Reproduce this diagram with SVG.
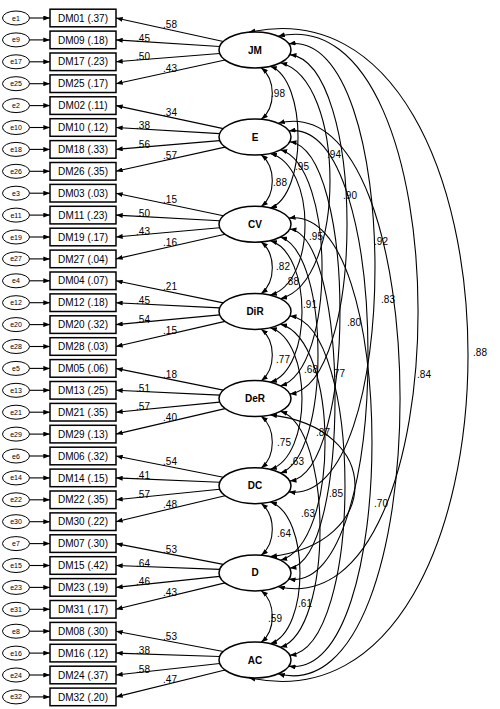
<svg xmlns="http://www.w3.org/2000/svg" width="500" height="709" viewBox="0 0 500 709">
<style>
.box{fill:#fff;stroke:#000;stroke-width:1.5}
.err{fill:#fff;stroke:#000;stroke-width:1}
.lat{fill:#fff;stroke:#000;stroke-width:1.5}
.ln{fill:none;stroke:#000;stroke-width:1.1}
.cv{fill:none;stroke:#000;stroke-width:1.1;marker-start:url(#ah);marker-end:url(#ah)}
.ar{marker-end:url(#ah)}
text{font-family:"Liberation Sans",Arial,sans-serif;font-size:10px;text-anchor:middle;fill:#000}
.et{font-size:7px}
.lt{font-weight:bold}
</style>
<defs>
<marker id="ah" viewBox="0 0 8 6" refX="8" refY="3" markerWidth="7" markerHeight="5" markerUnits="userSpaceOnUse" orient="auto-start-reverse"><path d="M0,0 L8,3 L0,6 z" fill="#000"/></marker>
</defs>
<g id="connectors">
<!-- error arrows -->
<g class="ln ar">
<path d="M29.5,18H50"/><path d="M29.5,39.9H50"/><path d="M29.5,61.8H50"/><path d="M29.5,83.7H50"/>
<path d="M29.5,105.6H50"/><path d="M29.5,127.5H50"/><path d="M29.5,149.4H50"/><path d="M29.5,171.3H50"/>
<path d="M29.5,193.2H50"/><path d="M29.5,215.1H50"/><path d="M29.5,237H50"/><path d="M29.5,258.9H50"/>
<path d="M29.5,280.8H50"/><path d="M29.5,302.7H50"/><path d="M29.5,324.6H50"/><path d="M29.5,346.5H50"/>
<path d="M29.5,368.4H50"/><path d="M29.5,390.3H50"/><path d="M29.5,412.2H50"/><path d="M29.5,434.1H50"/>
<path d="M29.5,456H50"/><path d="M29.5,477.9H50"/><path d="M29.5,499.8H50"/><path d="M29.5,521.7H50"/>
<path d="M29.5,543.6H50"/><path d="M29.5,565.5H50"/><path d="M29.5,587.4H50"/><path d="M29.5,609.3H50"/>
<path d="M29.5,631.2H50"/><path d="M29.5,653.1H50"/><path d="M29.5,675H50"/><path d="M29.5,696.9H50"/>
</g>
<!-- loadings -->
<g class="ln ar">
<path d="M223.3,41.5L116,18"/><path d="M219.7,46.5L116,39.9"/><path d="M219.7,53.5L116,61.8"/><path d="M225,60L116,83.7"/>
<path d="M223.3,128.6L116,105.6"/><path d="M219.7,133.6L116,127.5"/><path d="M219.7,140.6L116,149.4"/><path d="M225,147.1L116,171.3"/>
<path d="M223.3,215.8L116,193.2"/><path d="M219.7,220.8L116,215.1"/><path d="M219.7,227.8L116,237"/><path d="M225,234.3L116,258.9"/>
<path d="M223.3,302.9L116,280.8"/><path d="M219.7,307.9L116,302.7"/><path d="M219.7,314.9L116,324.6"/><path d="M225,321.4L116,346.5"/>
<path d="M223.3,390.1L116,368.4"/><path d="M219.7,395.1L116,390.3"/><path d="M219.7,402.1L116,412.2"/><path d="M225,408.6L116,434.1"/>
<path d="M223.3,477.2L116,456"/><path d="M219.7,482.2L116,477.9"/><path d="M219.7,489.2L116,499.8"/><path d="M225,495.7L116,521.7"/>
<path d="M223.3,564.4L116,543.6"/><path d="M219.7,569.4L116,565.5"/><path d="M219.7,576.4L116,587.4"/><path d="M225,582.9L116,609.3"/>
<path d="M223.3,651.5L116,631.2"/><path d="M219.7,656.5L116,653.1"/><path d="M219.7,663.5L116,675"/><path d="M225,670L116,696.9"/>
</g>
<g id="loading-labels">
<text x="170" y="28.3">.58</text><text x="143" y="41.6">.45</text><text x="143" y="60.1">.50</text><text x="170" y="71.5">.43</text>
<text x="170" y="115.7">.34</text><text x="143" y="129.1">.38</text><text x="143" y="147.6">.56</text><text x="170" y="158.8">.57</text>
<text x="170" y="203.1">.15</text><text x="143" y="216.6">.50</text><text x="143" y="235.1">.43</text><text x="170" y="246.2">.16</text>
<text x="170" y="290.4">.21</text><text x="143" y="304.1">.45</text><text x="143" y="322.6">.54</text><text x="170" y="333.6">.15</text>
<text x="170" y="377.8">.18</text><text x="143" y="391.6">.51</text><text x="143" y="410.1">.57</text><text x="170" y="421">.40</text>
<text x="170" y="465.2">.54</text><text x="143" y="479">.41</text><text x="143" y="497.5">.57</text><text x="170" y="508.3">.48</text>
<text x="170" y="552.6">.53</text><text x="143" y="566.5">.64</text><text x="143" y="585">.46</text><text x="170" y="595.7">.43</text>
<text x="170" y="639.9">.53</text><text x="143" y="654">.38</text><text x="143" y="672.5">.58</text><text x="170" y="683.1">.47</text>
</g>
<!-- covariances -->
<g id="covariances">
<path class="cv" d="M261.25,67.73 C276,79.73 276,107.37 261.25,119.37"/>
<path class="cv" d="M261.25,154.83 C276,166.83 276,194.57 261.25,206.57"/>
<path class="cv" d="M261.25,242.03 C276,254.03 276,281.67 261.25,293.67"/>
<path class="cv" d="M261.25,329.13 C276,341.13 276,368.87 261.25,380.87"/>
<path class="cv" d="M261.25,416.33 C276,428.33 276,455.97 261.25,467.97"/>
<path class="cv" d="M261.25,503.43 C276,515.43 276,543.17 261.25,555.17"/>
<path class="cv" d="M261.25,590.63 C276,602.63 276,630.27 261.25,642.27"/>
<path class="cv" d="M270.21,66.31 C307.3,79.1 307.3,195.2 270.21,207.99"/>
<path class="cv" d="M270.21,153.41 C316.6,166.2 316.6,282.3 270.21,295.09"/>
<path class="cv" d="M270.21,240.61 C312.6,253.4 312.6,369.5 270.21,382.29"/>
<path class="cv" d="M270.21,327.71 C312.6,340.5 312.6,456.6 270.21,469.39"/>
<path class="cv" d="M270.21,414.91 C383.3,427.7 383.3,543.8 270.21,556.59"/>
<path class="cv" d="M270.21,502.01 C309.9,514.8 309.9,630.9 270.21,643.69"/>
<path class="cv" d="M280.46,62.73 C346.5,79.4 346.5,282 280.46,298.67"/>
<path class="cv" d="M280.46,149.83 C335.9,166.5 335.9,369.2 280.46,385.87"/>
<path class="cv" d="M280.46,237.03 C330.5,253.7 330.5,456.3 280.46,472.97"/>
<path class="cv" d="M280.46,324.13 C339.9,340.8 339.9,543.5 280.46,560.17"/>
<path class="cv" d="M280.46,411.33 C333.2,428 333.2,630.6 280.46,647.27"/>
<path class="cv" d="M289.77,54.66 C366.1,63.5 366.1,385.1 289.77,393.94"/>
<path class="cv" d="M289.77,141.76 C356.7,150.6 356.7,472.2 289.77,481.04"/>
<path class="cv" d="M289.77,228.96 C350.1,237.8 350.1,559.4 289.77,568.24"/>
<path class="cv" d="M289.77,316.06 C363.4,324.9 363.4,646.5 289.77,655.34"/>
<path class="cv" d="M288.83,43.84 C403.7,28.5 403.7,507.2 288.83,491.86"/>
<path class="cv" d="M288.83,130.94 C394.4,115.6 394.4,594.4 288.83,579.06"/>
<path class="cv" d="M288.83,218.14 C399.7,202.8 399.7,681.5 288.83,666.16"/>
<path class="cv" d="M278.14,36.21 C464.7,-6 464.7,628.9 278.14,586.69"/>
<path class="cv" d="M278.14,123.31 C440.7,81.1 440.7,716 278.14,673.79"/>
<path class="cv" d="M248.75,32.27 C541.1,-31.3 541.1,741.3 248.75,677.73"/>
</g>
<g id="covariance-labels">
<text x="278" y="96.5">.98</text>
<text x="302" y="169.5">.95</text>
<text x="334" y="157.5">.94</text>
<text x="350" y="198.5">.90</text>
<text x="280" y="185.5">.88</text>
<text x="316" y="239.5">.95</text>
<text x="381" y="244.5">.92</text>
<text x="283" y="269.5">.82</text>
<text x="292" y="284.5">.88</text>
<text x="388" y="302.5">.83</text>
<text x="310" y="307.5">.91</text>
<text x="354" y="325.5">.80</text>
<text x="480" y="355.5">.88</text>
<text x="283" y="362.5">.77</text>
<text x="311" y="372.5">.68</text>
<text x="338" y="376.5">.77</text>
<text x="424" y="377.5">.84</text>
<text x="284" y="445.5">.75</text>
<text x="323" y="435.5">.87</text>
<text x="297" y="464.5">.63</text>
<text x="336" y="496.5">.85</text>
<text x="381" y="506.5">.70</text>
<text x="284" y="536.5">.64</text>
<text x="308" y="516.5">.63</text>
<text x="305" y="606.5">.61</text>
<text x="275" y="621.5">.59</text>
</g>
</g>
<!-- latent nodes -->
<g id="JM"><ellipse cx="255" cy="50" rx="36" ry="18" class="lat"/><text x="255" y="53.5" class="lt">JM</text></g>
<g id="E"><ellipse cx="255" cy="137.1" rx="36" ry="18" class="lat"/><text x="255" y="140.6" class="lt">E</text></g>
<g id="CV"><ellipse cx="255" cy="224.3" rx="36" ry="18" class="lat"/><text x="255" y="227.8" class="lt">CV</text></g>
<g id="DiR"><ellipse cx="255" cy="311.4" rx="36" ry="18" class="lat"/><text x="255" y="314.9" class="lt">DiR</text></g>
<g id="DeR"><ellipse cx="255" cy="398.6" rx="36" ry="18" class="lat"/><text x="255" y="402.1" class="lt">DeR</text></g>
<g id="DC"><ellipse cx="255" cy="485.7" rx="36" ry="18" class="lat"/><text x="255" y="489.2" class="lt">DC</text></g>
<g id="D"><ellipse cx="255" cy="572.9" rx="36" ry="18" class="lat"/><text x="255" y="576.4" class="lt">D</text></g>
<g id="AC"><ellipse cx="255" cy="660" rx="36" ry="18" class="lat"/><text x="255" y="663.5" class="lt">AC</text></g>
<!-- indicator boxes -->
<g id="DM01"><rect x="50" y="9.2" width="66" height="17.6" class="box"/><text x="83" y="21.6">DM01 (.37)</text></g>
<g id="DM09"><rect x="50" y="31.1" width="66" height="17.6" class="box"/><text x="83" y="43.5">DM09 (.18)</text></g>
<g id="DM17"><rect x="50" y="53" width="66" height="17.6" class="box"/><text x="83" y="65.4">DM17 (.23)</text></g>
<g id="DM25"><rect x="50" y="74.9" width="66" height="17.6" class="box"/><text x="83" y="87.3">DM25 (.17)</text></g>
<g id="DM02"><rect x="50" y="96.8" width="66" height="17.6" class="box"/><text x="83" y="109.2">DM02 (.11)</text></g>
<g id="DM10"><rect x="50" y="118.7" width="66" height="17.6" class="box"/><text x="83" y="131.1">DM10 (.12)</text></g>
<g id="DM18"><rect x="50" y="140.6" width="66" height="17.6" class="box"/><text x="83" y="153">DM18 (.33)</text></g>
<g id="DM26"><rect x="50" y="162.5" width="66" height="17.6" class="box"/><text x="83" y="174.9">DM26 (.35)</text></g>
<g id="DM03"><rect x="50" y="184.4" width="66" height="17.6" class="box"/><text x="83" y="196.8">DM03 (.03)</text></g>
<g id="DM11"><rect x="50" y="206.3" width="66" height="17.6" class="box"/><text x="83" y="218.7">DM11 (.23)</text></g>
<g id="DM19"><rect x="50" y="228.2" width="66" height="17.6" class="box"/><text x="83" y="240.6">DM19 (.17)</text></g>
<g id="DM27"><rect x="50" y="250.1" width="66" height="17.6" class="box"/><text x="83" y="262.5">DM27 (.04)</text></g>
<g id="DM04"><rect x="50" y="272" width="66" height="17.6" class="box"/><text x="83" y="284.4">DM04 (.07)</text></g>
<g id="DM12"><rect x="50" y="293.9" width="66" height="17.6" class="box"/><text x="83" y="306.3">DM12 (.18)</text></g>
<g id="DM20"><rect x="50" y="315.8" width="66" height="17.6" class="box"/><text x="83" y="328.2">DM20 (.32)</text></g>
<g id="DM28"><rect x="50" y="337.7" width="66" height="17.6" class="box"/><text x="83" y="350.1">DM28 (.03)</text></g>
<g id="DM05"><rect x="50" y="359.6" width="66" height="17.6" class="box"/><text x="83" y="372">DM05 (.06)</text></g>
<g id="DM13"><rect x="50" y="381.5" width="66" height="17.6" class="box"/><text x="83" y="393.9">DM13 (.25)</text></g>
<g id="DM21"><rect x="50" y="403.4" width="66" height="17.6" class="box"/><text x="83" y="415.8">DM21 (.35)</text></g>
<g id="DM29"><rect x="50" y="425.3" width="66" height="17.6" class="box"/><text x="83" y="437.7">DM29 (.13)</text></g>
<g id="DM06"><rect x="50" y="447.2" width="66" height="17.6" class="box"/><text x="83" y="459.6">DM06 (.32)</text></g>
<g id="DM14"><rect x="50" y="469.1" width="66" height="17.6" class="box"/><text x="83" y="481.5">DM14 (.15)</text></g>
<g id="DM22"><rect x="50" y="491" width="66" height="17.6" class="box"/><text x="83" y="503.4">DM22 (.35)</text></g>
<g id="DM30"><rect x="50" y="512.9" width="66" height="17.6" class="box"/><text x="83" y="525.3">DM30 (.22)</text></g>
<g id="DM07"><rect x="50" y="534.8" width="66" height="17.6" class="box"/><text x="83" y="547.2">DM07 (.30)</text></g>
<g id="DM15"><rect x="50" y="556.7" width="66" height="17.6" class="box"/><text x="83" y="569.1">DM15 (.42)</text></g>
<g id="DM23"><rect x="50" y="578.6" width="66" height="17.6" class="box"/><text x="83" y="591">DM23 (.19)</text></g>
<g id="DM31"><rect x="50" y="600.5" width="66" height="17.6" class="box"/><text x="83" y="612.9">DM31 (.17)</text></g>
<g id="DM08"><rect x="50" y="622.4" width="66" height="17.6" class="box"/><text x="83" y="634.8">DM08 (.30)</text></g>
<g id="DM16"><rect x="50" y="644.3" width="66" height="17.6" class="box"/><text x="83" y="656.7">DM16 (.12)</text></g>
<g id="DM24"><rect x="50" y="666.2" width="66" height="17.6" class="box"/><text x="83" y="678.6">DM24 (.37)</text></g>
<g id="DM32"><rect x="50" y="688.1" width="66" height="17.6" class="box"/><text x="83" y="700.5">DM32 (.20)</text></g>
<!-- error nodes -->
<g id="e1"><ellipse cx="16" cy="18" rx="13.5" ry="7" class="err"/><text x="16" y="20.5" class="et">e1</text></g>
<g id="e9"><ellipse cx="16" cy="39.9" rx="13.5" ry="7" class="err"/><text x="16" y="42.4" class="et">e9</text></g>
<g id="e17"><ellipse cx="16" cy="61.8" rx="13.5" ry="7" class="err"/><text x="16" y="64.3" class="et">e17</text></g>
<g id="e25"><ellipse cx="16" cy="83.7" rx="13.5" ry="7" class="err"/><text x="16" y="86.2" class="et">e25</text></g>
<g id="e2"><ellipse cx="16" cy="105.6" rx="13.5" ry="7" class="err"/><text x="16" y="108.1" class="et">e2</text></g>
<g id="e10"><ellipse cx="16" cy="127.5" rx="13.5" ry="7" class="err"/><text x="16" y="130" class="et">e10</text></g>
<g id="e18"><ellipse cx="16" cy="149.4" rx="13.5" ry="7" class="err"/><text x="16" y="151.9" class="et">e18</text></g>
<g id="e26"><ellipse cx="16" cy="171.3" rx="13.5" ry="7" class="err"/><text x="16" y="173.8" class="et">e26</text></g>
<g id="e3"><ellipse cx="16" cy="193.2" rx="13.5" ry="7" class="err"/><text x="16" y="195.7" class="et">e3</text></g>
<g id="e11"><ellipse cx="16" cy="215.1" rx="13.5" ry="7" class="err"/><text x="16" y="217.6" class="et">e11</text></g>
<g id="e19"><ellipse cx="16" cy="237" rx="13.5" ry="7" class="err"/><text x="16" y="239.5" class="et">e19</text></g>
<g id="e27"><ellipse cx="16" cy="258.9" rx="13.5" ry="7" class="err"/><text x="16" y="261.4" class="et">e27</text></g>
<g id="e4"><ellipse cx="16" cy="280.8" rx="13.5" ry="7" class="err"/><text x="16" y="283.3" class="et">e4</text></g>
<g id="e12"><ellipse cx="16" cy="302.7" rx="13.5" ry="7" class="err"/><text x="16" y="305.2" class="et">e12</text></g>
<g id="e20"><ellipse cx="16" cy="324.6" rx="13.5" ry="7" class="err"/><text x="16" y="327.1" class="et">e20</text></g>
<g id="e28"><ellipse cx="16" cy="346.5" rx="13.5" ry="7" class="err"/><text x="16" y="349" class="et">e28</text></g>
<g id="e5"><ellipse cx="16" cy="368.4" rx="13.5" ry="7" class="err"/><text x="16" y="370.9" class="et">e5</text></g>
<g id="e13"><ellipse cx="16" cy="390.3" rx="13.5" ry="7" class="err"/><text x="16" y="392.8" class="et">e13</text></g>
<g id="e21"><ellipse cx="16" cy="412.2" rx="13.5" ry="7" class="err"/><text x="16" y="414.7" class="et">e21</text></g>
<g id="e29"><ellipse cx="16" cy="434.1" rx="13.5" ry="7" class="err"/><text x="16" y="436.6" class="et">e29</text></g>
<g id="e6"><ellipse cx="16" cy="456" rx="13.5" ry="7" class="err"/><text x="16" y="458.5" class="et">e6</text></g>
<g id="e14"><ellipse cx="16" cy="477.9" rx="13.5" ry="7" class="err"/><text x="16" y="480.4" class="et">e14</text></g>
<g id="e22"><ellipse cx="16" cy="499.8" rx="13.5" ry="7" class="err"/><text x="16" y="502.3" class="et">e22</text></g>
<g id="e30"><ellipse cx="16" cy="521.7" rx="13.5" ry="7" class="err"/><text x="16" y="524.2" class="et">e30</text></g>
<g id="e7"><ellipse cx="16" cy="543.6" rx="13.5" ry="7" class="err"/><text x="16" y="546.1" class="et">e7</text></g>
<g id="e15"><ellipse cx="16" cy="565.5" rx="13.5" ry="7" class="err"/><text x="16" y="568" class="et">e15</text></g>
<g id="e23"><ellipse cx="16" cy="587.4" rx="13.5" ry="7" class="err"/><text x="16" y="589.9" class="et">e23</text></g>
<g id="e31"><ellipse cx="16" cy="609.3" rx="13.5" ry="7" class="err"/><text x="16" y="611.8" class="et">e31</text></g>
<g id="e8"><ellipse cx="16" cy="631.2" rx="13.5" ry="7" class="err"/><text x="16" y="633.7" class="et">e8</text></g>
<g id="e16"><ellipse cx="16" cy="653.1" rx="13.5" ry="7" class="err"/><text x="16" y="655.6" class="et">e16</text></g>
<g id="e24"><ellipse cx="16" cy="675" rx="13.5" ry="7" class="err"/><text x="16" y="677.5" class="et">e24</text></g>
<g id="e32"><ellipse cx="16" cy="696.9" rx="13.5" ry="7" class="err"/><text x="16" y="699.4" class="et">e32</text></g>
</svg>
